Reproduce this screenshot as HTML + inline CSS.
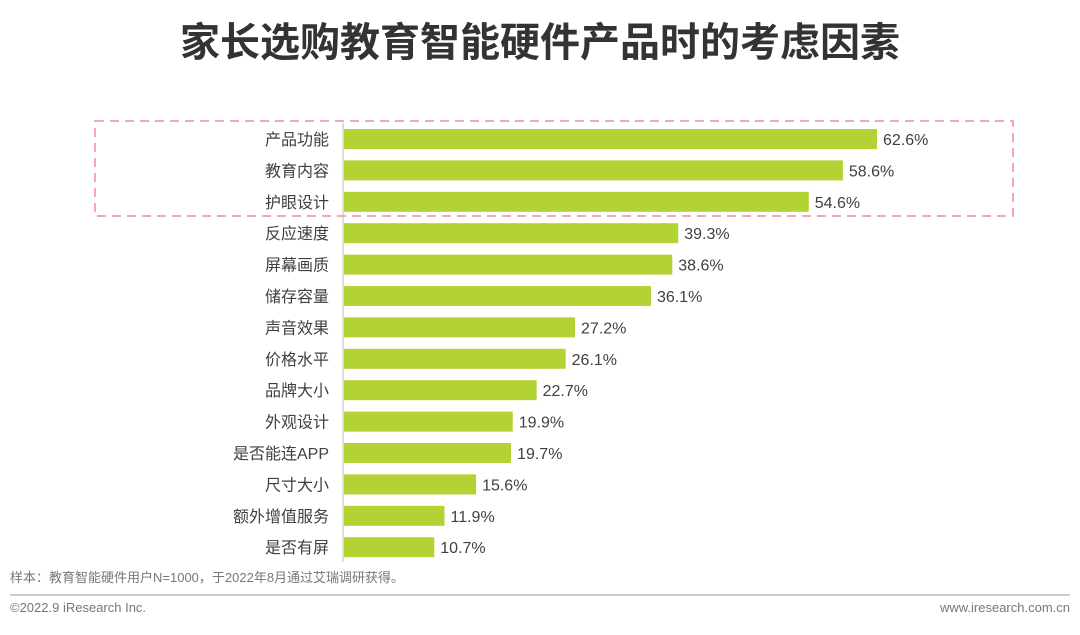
<!DOCTYPE html>
<html><head><meta charset="utf-8"><style>
body{margin:0;width:1080px;height:630px;background:#fff;overflow:hidden;font-family:"Liberation Sans","Noto Sans CJK SC",sans-serif;}
</style></head><body>
<svg width="1080" height="630" xmlns="http://www.w3.org/2000/svg">
<text x="540" y="56" text-anchor="middle" font-size="40" font-weight="bold" fill="#333" font-family="Liberation Sans, Noto Sans CJK SC, sans-serif">家长选购教育智能硬件产品时的考虑因素</text>
<line x1="343" y1="123" x2="343" y2="562" stroke="#bbb" stroke-width="1"/>
<g id="bars"></g>
<rect x="95" y="121" width="918" height="95" fill="none" stroke="#f28b95" stroke-width="1.5" stroke-dasharray="9,6"/>
<text x="10" y="582" font-size="13" fill="#777" font-family="Liberation Sans, Noto Sans CJK SC, sans-serif">样本：教育智能硬件用户N=1000，于2022年8月通过艾瑞调研获得。</text>
<line x1="10" y1="595" x2="1070" y2="595" stroke="#999" stroke-width="1"/>
<text x="10" y="612" font-size="13" fill="#777">©2022.9 iResearch Inc.</text>
<text x="1070" y="612" font-size="13" fill="#777" text-anchor="end">www.iresearch.com.cn</text>
</svg>
<script>
const categories=["产品功能","教育内容","护眼设计","反应速度","屏幕画质","储存容量","声音效果","价格水平","品牌大小","外观设计","是否能连APP","尺寸大小","额外增值服务","是否有屏"];
const values=[62.6,58.6,54.6,39.3,38.6,36.1,27.2,26.1,22.7,19.9,19.7,15.6,11.9,10.7];
const x0=343, pxPer=534/62.6, y0=139, step=31.4, bh=20;
const xs=v=>x0+v*pxPer, ys=i=>y0+i*step;
const g=document.getElementById('bars'), NS="http://www.w3.org/2000/svg";
categories.forEach((c,i)=>{
 const r=document.createElementNS(NS,'rect');
 r.setAttribute('x',x0+1);r.setAttribute('y',ys(i)-bh/2);r.setAttribute('width',xs(values[i])-x0-1);r.setAttribute('height',bh);r.setAttribute('fill','#b3d234');
 
 
 g.appendChild(r);
 const l=document.createElementNS(NS,'text');
 l.setAttribute('x',329);l.setAttribute('y',ys(i)+6);l.setAttribute('text-anchor','end');l.setAttribute('font-size','16');l.setAttribute('fill','#404040');l.textContent=c;
 
 
 g.appendChild(l);
 const v=document.createElementNS(NS,'text');
 v.setAttribute('x',xs(values[i])+6);v.setAttribute('y',ys(i)+6);v.setAttribute('font-size','16');v.setAttribute('fill','#404040');v.textContent=values[i].toFixed(1)+'%';
 
 
 g.appendChild(v);
});
</script>
</body></html>
